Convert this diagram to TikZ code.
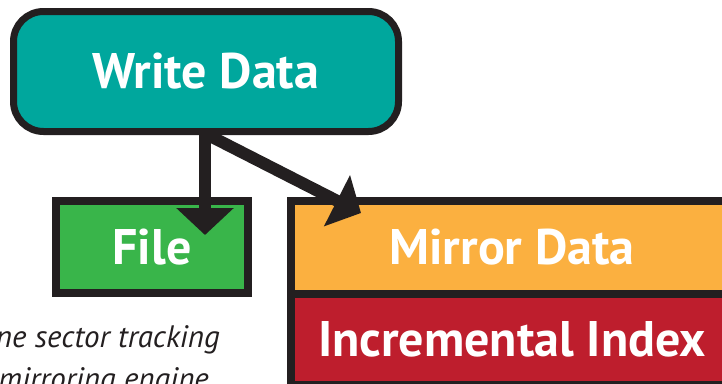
\documentclass[tikz,border=0pt]{standalone}
\usepackage{fontspec}
\setmainfont{PT Sans}
\usetikzlibrary{arrows.meta}
\definecolor{edge}{HTML}{231F20}
\definecolor{wdteal}{HTML}{00A79D}
\definecolor{filegreen}{HTML}{39B54A}
\definecolor{mirrororange}{HTML}{FBB040}
\definecolor{indexred}{HTML}{BE1E2D}
\begin{document}
\begin{tikzpicture}[x=1pt,y=-1pt,
  box/.style={draw=edge, line width=8pt, inner sep=0pt, text=white,
    font=\bfseries\fontsize{50}{60}\selectfont},
  flow/.style={draw=edge, line width=12pt, -{Triangle[length=27pt,width=56pt]}},
  note/.style={inner sep=0pt, anchor=base east, text=edge,
    font=\itshape\fontsize{31}{38}\selectfont}]
\useasboundingbox (0,0) rectangle (722,383);
\clip (0,0) rectangle (722,383);
\fill[white] (0,0) rectangle (722,383);

% storage boxes
\node[box, fill=filegreen, minimum width=192pt, minimum height=92pt] (file) at (152,247) {File};
\node[box, fill=mirrororange, minimum width=442pt, minimum height=93pt] (mirror) at (512,247.5) {Mirror Data};
\node[box, fill=indexred, minimum width=442pt, minimum height=91pt] (index) at (512,339.5) {Incremental Index};

% side note
\node[note] (n1) at (220,347) {ne sector tracking};
\node[note] (n2) at (209,389) {mirroring engine};

% source box
\node[box, line width=7pt, fill=wdteal, rounded corners=30pt, minimum width=385pt, minimum height=120pt] (wd) at (206,71.5) {Write Data};

% arrow tips inside the targets
\coordinate (ftip) at (205,235);
\coordinate (mtip) at (361,213);
\draw[flow] (wd.south -| ftip) -- (ftip);
\draw[flow] ([xshift=2pt]wd.south) -- (mtip);
\end{tikzpicture}
\end{document}
